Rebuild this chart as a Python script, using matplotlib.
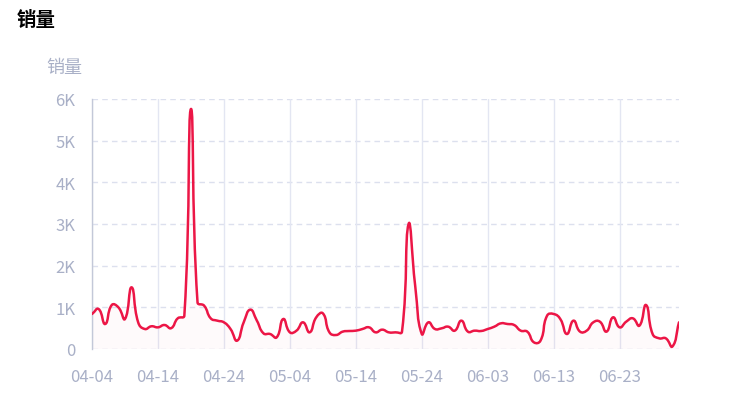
import numpy as np
import pandas as pd
import matplotlib
matplotlib.use("Agg")
import matplotlib.pyplot as plt
from matplotlib.path import Path
from matplotlib.patches import PathPatch

plt.rcParams['font.family'] = ['Noto Sans CJK SC', 'DejaVu Sans']

# daily sales, starting 04-04
dates = pd.date_range("2024-04-04", periods=90, freq="D")
sales = [840, 960, 600, 1056, 1000, 720, 1480, 640, 480, 545,
         520, 576, 500, 736, 800, 5760, 1120, 1040, 736, 680,
         640, 480, 200, 640, 944, 680, 376, 360, 280, 720,
         400, 440, 640, 400, 760, 856, 400, 336, 416, 432,
         440, 480, 520, 400, 464, 400, 400, 416, 3000, 1520,
         360, 640, 480, 496, 536, 440, 680, 416, 440, 432,
         480, 536, 616, 600, 576, 440, 416, 160, 200, 800,
         840, 720, 360, 680, 416, 440, 640, 656, 416, 760,
         520, 656, 736, 560, 1056, 360, 256, 256, 60, 640]
y_ticks = [0, 1000, 2000, 3000, 4000, 5000, 6000]
y_labels = ["0", "1K", "2K", "3K", "4K", "5K", "6K"]
tick_every = 10

line_color = "#EC1646"
grey = "#A9B0C7"

fig = plt.figure(figsize=(7.39, 4.14), dpi=100)
ax = fig.add_axes([92 / 739, 64 / 414, 587 / 739, 250 / 414])

x = np.arange(len(sales), dtype=float)
y = np.array(sales, dtype=float)

# echarts-like smooth curve (bezier control points, smooth = 0.5)
sx, sy = 6.6, 250 / 6000  # px per unit, for segment length ratios
smooth = 0.5
verts = [(x[0], y[0])]
codes = [Path.MOVETO]
n = len(x)
cps = []
for i in range(n):
    p0 = i - 1 if i > 0 else i
    p2 = i + 1 if i < n - 1 else i
    vx = (x[p2] - x[p0]) * smooth
    vy = (y[p2] - y[p0]) * smooth
    l0 = np.hypot((x[i] - x[p0]) * sx, (y[i] - y[p0]) * sy)
    l1 = np.hypot((x[p2] - x[i]) * sx, (y[p2] - y[i]) * sy)
    r = l1 / (l0 + l1) if (l0 + l1) > 0 else 0.5
    cps.append(((x[i] - vx * (1 - r), y[i] - vy * (1 - r)),
                (x[i] + vx * r, y[i] + vy * r)))
for i in range(n - 1):
    verts += [cps[i][1], cps[i + 1][0], (x[i + 1], y[i + 1])]
    codes += [Path.CURVE4] * 3

line_path = Path(verts, codes)
ax.add_patch(PathPatch(line_path, fill=False, edgecolor=line_color, lw=1.8,
                       capstyle='round', joinstyle='round', zorder=3))
area = Path(verts + [(x[-1], 0), (x[0], 0), (x[0], y[0])],
            codes + [Path.LINETO, Path.LINETO, Path.CLOSEPOLY])
ax.add_patch(PathPatch(area, facecolor=line_color, alpha=0.02, lw=0, zorder=2))

ax.set_xlim(x[0], x[-1])
ax.set_ylim(0, 6000)

tick_pos = x[::tick_every]
ax.set_xticks(tick_pos)
ax.set_xticklabels([d.strftime("%m-%d") for d in dates[::tick_every]])
ax.set_yticks(y_ticks)
ax.set_yticklabels(y_labels)

for v in y_ticks:
    ax.axhline(v, color="#DCE0EE", lw=1, ls=(0, (4, 3)), zorder=1)
for v in tick_pos:
    ax.axvline(v, color="#E3E6F2", lw=1, zorder=1)

for s in ["top", "right", "bottom"]:
    ax.spines[s].set_visible(False)
ax.spines["left"].set_color("#C3C8D8")
ax.spines["left"].set_linewidth(1)
ax.tick_params(length=0, colors=grey, labelsize=12)
ax.tick_params(axis="x", pad=14)
ax.tick_params(axis="y", pad=12)

fig.text(17 / 739, 1 - 21 / 414, "销量", fontsize=14, fontweight="bold",
         color="black", va="center", ha="left")
fig.text(64 / 739, 1 - 68 / 414, "销量", fontsize=13, color=grey,
         va="center", ha="center")

fig.savefig("out.png", dpi=100)
